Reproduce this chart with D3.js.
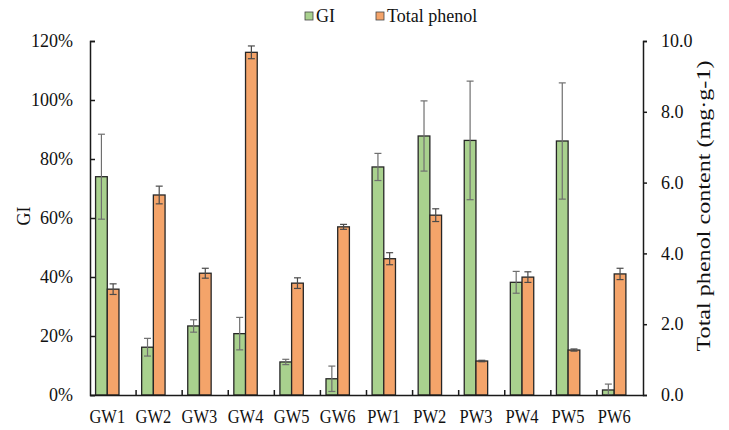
<!DOCTYPE html>
<html lang="en">
<head>
  <meta charset="UTF-8" />
  <title>GI and Total phenol</title>
  <style>
    body { margin: 0; background: #fff; }
    svg { font-family: "Liberation Serif", "Times New Roman", serif; }
  </style>
</head>
<body>
  <div id="chart"></div>
  <script src="https://d3js.org/d3.v7.min.js"></script>
  <script>
    const categories = ['GW1', 'GW2', 'GW3', 'GW4', 'GW5', 'GW6', 'PW1', 'PW2', 'PW3', 'PW4', 'PW5', 'PW6'];
    // GI in %, with error (±)
    const giValues = [74.0, 16.2, 23.4, 20.8, 11.2, 5.5, 77.3, 87.8, 86.3, 38.2, 86.1, 1.7];
    const giErrors = [14.4, 3.0, 2.1, 5.5, 0.9, 4.3, 4.6, 11.9, 20.1, 3.7, 19.7, 2.0];
    // Total phenol content in mg·g-1, with error (±)
    const phenolValues = [2.99, 5.65, 3.44, 9.68, 3.16, 4.75, 3.85, 5.08, 0.96, 3.33, 1.27, 3.42];
    const phenolErrors = [0.15, 0.25, 0.14, 0.18, 0.15, 0.07, 0.17, 0.18, 0.02, 0.15, 0.03, 0.16];
    const leftTicks = [0, 20, 40, 60, 80, 100, 120];
    const rightTicks = [0, 2, 4, 6, 8, 10];

    const width = 729, height = 430;
    const plotLeft = 90, plotRight = 643, plotTop = 41, plotBottom = 395;
    const barW = 11.7;
    const pairPos = 0.375; // pair centre sits left of the band centre

    const svg = d3.select('#chart').append('svg')
      .attr('width', width).attr('height', height);

    const x = d3.scaleBand().domain(categories).range([plotLeft, plotRight]);
    const yL = d3.scaleLinear().domain([0, 120]).range([plotBottom, plotTop]);
    const yR = d3.scaleLinear().domain([0, 10]).range([plotBottom, plotTop]);
    const cx = c => x(c) + x.bandwidth() * pairPos;

    // bars
    const green = '#a9d18e', orange = '#f4a46a';
    const series = [
      { vals: giValues, errs: giErrors, y: yL, color: green, dx: -barW, err: '#6f6f6f' },
      { vals: phenolValues, errs: phenolErrors, y: yR, color: orange, dx: 0, err: '#4a4a4a' }
    ];

    series.forEach(s => {
      svg.append('g').selectAll('rect').data(categories).join('rect')
        .attr('x', c => cx(c) + s.dx)
        .attr('y', (c, i) => s.y(s.vals[i]))
        .attr('width', barW)
        .attr('height', (c, i) => plotBottom - s.y(s.vals[i]))
        .attr('fill', s.color)
        .attr('stroke', '#262626')
        .attr('stroke-width', 1.3);
    });

    series.forEach(s => {
      const g = svg.append('g').attr('stroke', s.err).attr('stroke-width', 1.2);
      categories.forEach((c, i) => {
        const xm = cx(c) + s.dx + barW / 2;
        const y1 = s.y(s.vals[i] + s.errs[i]);
        const y2 = s.y(Math.max(0, s.vals[i] - s.errs[i]));
        g.append('line').attr('x1', xm).attr('x2', xm).attr('y1', y1).attr('y2', y2);
        [y1, y2].forEach(yy => g.append('line')
          .attr('x1', xm - 3.5).attr('x2', xm + 3.5).attr('y1', yy).attr('y2', yy));
      });
    });

    // axes
    const axisColor = '#1a1a1a';
    const gl = svg.append('g').attr('transform', `translate(${plotLeft},0)`)
      .call(d3.axisLeft(yL).tickValues(leftTicks).tickSize(-5).tickPadding(17)
        .tickFormat(d => d + '%'));
    const gr = svg.append('g').attr('transform', `translate(${plotRight},0)`)
      .call(d3.axisRight(yR).tickValues(rightTicks).tickSize(4).tickPadding(14)
        .tickFormat(d3.format('.1f')));
    const gb = svg.append('g').attr('transform', `translate(0,${plotBottom})`)
      .call(d3.axisBottom(x).tickSize(0).tickPadding(12));

    [gl, gr, gb].forEach(g => {
      g.select('.domain').attr('stroke', axisColor).attr('stroke-width', 1.5);
      g.selectAll('.tick line').attr('stroke', axisColor).attr('stroke-width', 1.5);
      g.selectAll('text').attr('font-family', '"Liberation Serif", serif')
        .attr('font-size', 18).attr('fill', '#111');
    });
    // category labels: the source figure is stretched a little vertically
    gb.selectAll('text').attr('font-size', 16.5).attr('transform', 'scale(1,1.2)');
    gb.selectAll('.tick').attr('transform', c => `translate(${cx(c)},0)`);

    // category separator ticks on the bottom axis
    svg.append('g').selectAll('line').data(categories.slice(1)).join('line')
      .attr('x1', c => x(c)).attr('x2', c => x(c))
      .attr('y1', plotBottom).attr('y2', plotBottom - 5)
      .attr('stroke', axisColor).attr('stroke-width', 1.5);

    // axis titles
    svg.append('text')
      .attr('transform', `translate(30,${(plotTop + plotBottom) / 2 - 2}) rotate(-90)`)
      .attr('text-anchor', 'middle').attr('font-size', 18).attr('fill', '#111')
      .text('GI');
    svg.append('text')
      .attr('transform', `translate(710,206) rotate(-90) scale(1.27,1)`)
      .attr('text-anchor', 'middle').attr('font-size', 19).attr('fill', '#111')
      .text('Total phenol content (mg·g-1)');

    // legend
    const legend = [
      { label: 'GI', color: green, x: 305 },
      { label: 'Total phenol', color: orange, x: 376 }
    ];
    const lg = svg.append('g').selectAll('g').data(legend).join('g')
      .attr('transform', d => `translate(${d.x},16)`);
    lg.append('rect').attr('x', 0).attr('y', -4).attr('width', 8).attr('height', 8)
      .attr('fill', d => d.color).attr('stroke', '#444').attr('stroke-width', 0.8);
    lg.append('text').attr('x', 11).attr('y', 6).attr('font-size', 18).attr('fill', '#111')
      .text(d => d.label);
  </script>
</body>
</html>
